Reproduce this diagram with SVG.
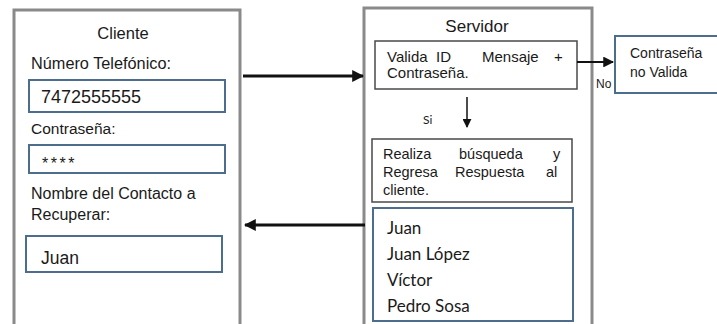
<svg xmlns="http://www.w3.org/2000/svg" width="717" height="324" viewBox="0 0 717 324">
<defs>
<style>
.outer{fill:#fff;stroke:#8a8a8a;stroke-width:3}
.field{fill:#fff;stroke:#4d6d8c;stroke-width:2}
.step{fill:#fff;stroke:#4a4a4a;stroke-width:1.5}
.t{font-family:"Liberation Sans",Arial,sans-serif;fill:#1a1a1a}
.c{font-family:Lato,"Open Sans",sans-serif;fill:#1a1a1a}
.conn{stroke:#111;fill:none}
</style>
<marker id="ah" viewBox="0 0 10 10" refX="9" refY="5" markerWidth="4" markerHeight="4" orient="auto" markerUnits="strokeWidth"><path d="M0,0 L10,5 L0,10 Z" fill="#111"/></marker>
<marker id="ahs" viewBox="0 0 10 10" refX="9" refY="5" markerWidth="6" markerHeight="6" orient="auto" markerUnits="strokeWidth"><path d="M0,0 L10,5 L0,10 Z" fill="#111"/></marker>
</defs>
<rect width="717" height="324" fill="#fff"/>
<g id="cliente">
<rect class="outer" x="14" y="10" width="226" height="330"/>
<text class="t" x="123" y="39" font-size="16.5" text-anchor="middle">Cliente</text>
<text class="t" x="31" y="69" font-size="16.3">Número Telefónico:</text>
<rect class="field" x="29" y="80" width="196" height="32"/>
<text class="t" x="41" y="103" font-size="18">7472555555</text>
<text class="t" x="31" y="134" font-size="15.5">Contraseña:</text>
<rect class="field" x="29" y="145" width="196" height="28"/>
<text class="t" x="42" y="169" font-size="16" letter-spacing="2.5">****</text>
<text class="t" x="31" y="199" font-size="16">Nombre del Contacto a</text>
<text class="t" x="31" y="220" font-size="16">Recuperar:</text>
<rect class="field" x="26" y="236" width="196" height="36"/>
<text class="t" x="41" y="264" font-size="17.5">Juan</text>
</g>
<g id="servidor">
<rect class="outer" x="364" y="8" width="228" height="330"/>
<text class="t" x="477" y="32" font-size="17" text-anchor="middle">Servidor</text>
</g>
<g id="valida">
<rect class="step" x="375" y="41" width="202" height="48"/>
<text class="t" font-size="15"><tspan x="387" y="62">Valida</tspan><tspan x="436" y="62">ID</tspan><tspan x="482" y="62">Mensaje</tspan><tspan x="554" y="62">+</tspan><tspan x="387" y="78">Contraseña.</tspan></text>
</g>
<g id="realiza">
<rect class="step" x="372" y="139" width="200" height="63"/>
<text class="t" font-size="14.5"><tspan x="383" y="159">Realiza</tspan><tspan x="459" y="159">búsqueda</tspan><tspan x="553" y="159">y</tspan><tspan x="383" y="177">Regresa</tspan><tspan x="455" y="177">Respuesta</tspan><tspan x="546" y="177">al</tspan><tspan x="383" y="195">cliente.</tspan></text>
</g>
<g id="resultados">
<rect class="field" x="373" y="208" width="200" height="113"/>
<text class="c" x="387" y="234" font-size="17">Juan</text>
<text class="c" x="387" y="260" font-size="17">Juan López</text>
<text class="c" x="387" y="286" font-size="17">Víctor</text>
<text class="c" x="387" y="312" font-size="17">Pedro Sosa</text>
</g>
<g id="no-valida">
<rect class="field" x="615" y="36" width="110" height="57"/>
<text class="t" x="630" y="58" font-size="14">Contraseña</text>
<text class="t" x="630" y="77" font-size="14">no Valida</text>
</g>
<g id="connectors">
<line class="conn" x1="243" y1="76" x2="363" y2="76" stroke-width="3" marker-end="url(#ah)"/>
<line class="conn" x1="365" y1="225" x2="245" y2="225" stroke-width="3" marker-end="url(#ah)"/>
<line class="conn" x1="467" y1="97" x2="467" y2="127" stroke-width="1.5" marker-end="url(#ahs)"/>
<line class="conn" x1="577" y1="62" x2="613" y2="62" stroke-width="1.8" marker-end="url(#ahs)"/>
<text class="c" x="423" y="124" font-size="12">Si</text>
<text class="t" x="596" y="88" font-size="12">No</text>
</g>
</svg>
